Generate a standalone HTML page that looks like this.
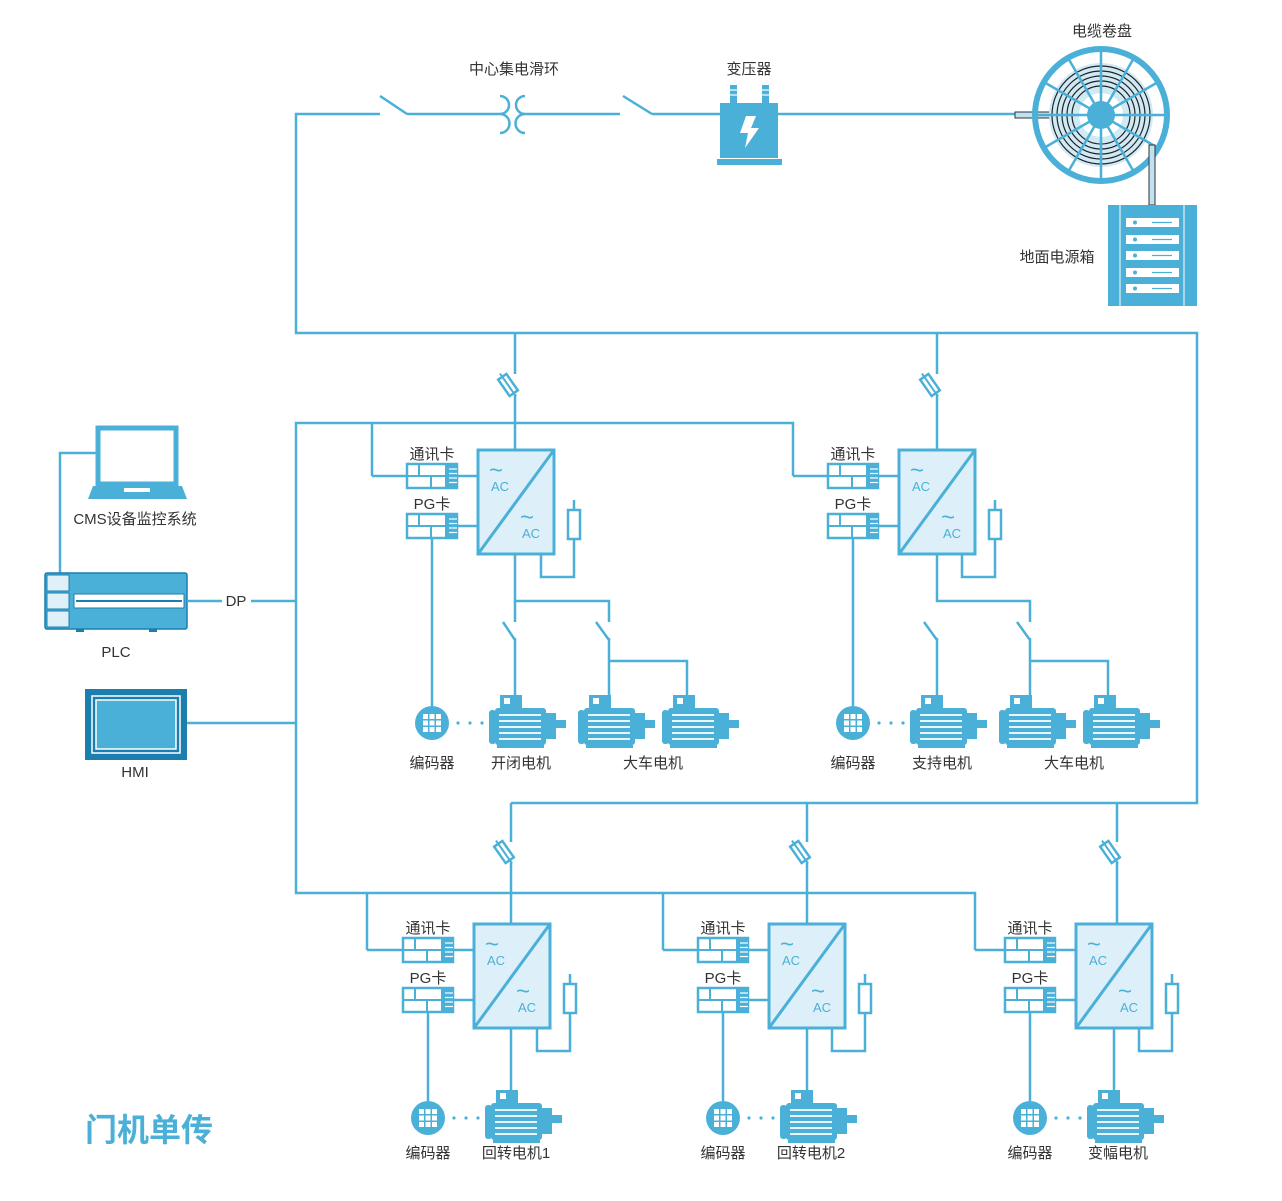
<!DOCTYPE html>
<html><head><meta charset="utf-8"><style>
body{margin:0;background:#fff;}
svg{display:block;}
text{font-family:"Liberation Sans","Noto Sans CJK SC",sans-serif;fill:#333;font-size:15px;text-anchor:middle;}
.l{fill:none;stroke:#4ab0d8;stroke-width:2.5;}
.ac{fill:#4ab0d8;font-size:13px;text-anchor:start;}
.tl{fill:#4ab0d8;font-size:24px;text-anchor:start;}
</style></head><body>
<svg width="1282" height="1201" viewBox="0 0 1282 1201" xmlns="http://www.w3.org/2000/svg">
<defs>
<symbol id="drive" overflow="visible">
 <rect x="0" y="0" width="76" height="104" fill="#ddeff8" stroke="#4ab0d8" stroke-width="3"/>
 <line x1="0" y1="104" x2="76" y2="0" stroke="#4ab0d8" stroke-width="3"/>
</symbol>
<symbol id="card" overflow="visible">
 <rect x="0" y="0" width="50" height="24" fill="#fff" stroke="#4ab0d8" stroke-width="2.5"/>
 <line x1="0" y1="12" x2="38" y2="12" stroke="#4ab0d8" stroke-width="2"/>
 <line x1="12" y1="0" x2="12" y2="12" stroke="#4ab0d8" stroke-width="2"/>
 <line x1="24" y1="12" x2="24" y2="24" stroke="#4ab0d8" stroke-width="2"/>
 <rect x="38" y="0" width="12" height="24" fill="#4ab0d8"/>
 <g stroke="#fff" stroke-width="1.2"><line x1="42" y1="5" x2="50" y2="5"/><line x1="42" y1="9.5" x2="50" y2="9.5"/><line x1="42" y1="14" x2="50" y2="14"/><line x1="42" y1="18.5" x2="50" y2="18.5"/></g>
</symbol>
<symbol id="res" overflow="visible">
 <line x1="6" y1="-10" x2="6" y2="0" stroke="#4ab0d8" stroke-width="2.5"/>
 <rect x="0" y="0" width="12" height="29" fill="#fff" stroke="#4ab0d8" stroke-width="2.5"/>
</symbol>
<symbol id="fuse" overflow="visible">
 <g transform="rotate(-35)">
 <rect x="-5" y="-10" width="10" height="20" fill="#fff" stroke="#4ab0d8" stroke-width="2.5"/>
 <line x1="0" y1="-14" x2="0" y2="14" stroke="#4ab0d8" stroke-width="2"/>
 </g>
</symbol>
<symbol id="motor" overflow="visible">
 <rect x="11" y="0" width="22" height="14" fill="#4ab0d8"/>
 <rect x="15" y="3" width="6" height="6" fill="#fff"/>
 <rect x="0" y="15" width="7" height="34" rx="3" fill="#4ab0d8"/>
 <rect x="6" y="13" width="51" height="37" rx="3" fill="#4ab0d8"/>
 <g stroke="#fff" stroke-width="1.8"><line x1="10" y1="20" x2="52" y2="20"/><line x1="10" y1="26" x2="52" y2="26"/><line x1="10" y1="32" x2="52" y2="32"/><line x1="10" y1="38" x2="52" y2="38"/><line x1="10" y1="44" x2="52" y2="44"/></g>
 <rect x="57" y="18" width="10" height="26" fill="#4ab0d8"/>
 <rect x="67" y="25" width="10" height="8" fill="#4ab0d8"/>
 <rect x="8" y="50" width="47" height="3" fill="#4ab0d8"/>
</symbol>
<symbol id="enc" overflow="visible">
 <circle cx="0" cy="0" r="17" fill="#4ab0d8"/>
 <g fill="#fff"><rect x="-9" y="-9" width="5" height="5"/><rect x="-2.5" y="-9" width="5" height="5"/><rect x="4" y="-9" width="5" height="5"/><rect x="-9" y="-2.5" width="5" height="5"/><rect x="-2.5" y="-2.5" width="5" height="5"/><rect x="4" y="-2.5" width="5" height="5"/><rect x="-9" y="4" width="5" height="5"/><rect x="-2.5" y="4" width="5" height="5"/><rect x="4" y="4" width="5" height="5"/></g>
 <g fill="#4ab0d8"><circle cx="26" cy="0" r="1.6"/><circle cx="38" cy="0" r="1.6"/><circle cx="50" cy="0" r="1.6"/></g>
</symbol>
</defs>

<path class="l" d="M380 114 H296 V333 H1197 V803 H511"/>
<line class="l" x1="380" y1="96" x2="407" y2="114"/>
<line class="l" x1="407" y1="114" x2="502" y2="114"/>
<path class="l" d="M500 96 A9 9 0 0 1 500 114 A9 9 0 0 1 500 133"/>
<path class="l" d="M525 96 A9 9 0 0 0 525 114 A9 9 0 0 0 525 133"/>
<line class="l" x1="523" y1="114" x2="620" y2="114"/>
<line class="l" x1="623" y1="96" x2="652" y2="114"/>
<line class="l" x1="652" y1="114" x2="720" y2="114"/>
<line class="l" x1="778" y1="114" x2="1015" y2="114"/>
<text x="514" y="74">中心集电滑环</text>
<text x="749" y="74">变压器</text>
<g fill="#4ab0d8">
<rect x="730" y="85" width="7" height="18"/><rect x="762" y="85" width="7" height="18"/>
<rect x="720" y="103" width="58" height="55"/>
<rect x="717" y="159" width="65" height="6"/>
</g>
<g stroke="#fff" stroke-width="1.2"><line x1="729" y1="90" x2="738" y2="90"/><line x1="729" y1="95" x2="738" y2="95"/><line x1="761" y1="90" x2="770" y2="90"/><line x1="761" y1="95" x2="770" y2="95"/></g>
<path d="M746 116 L756 116 L751 128 L759 128 L745 148 L748 133 L740 133 Z" fill="#fff"/>
<text x="1102" y="36">电缆卷盘</text>
<rect x="1015" y="112" width="35" height="6" fill="#bfe2f2" stroke="#333" stroke-width="1"/>
<circle cx="1101" cy="115" r="52" fill="#cfe9f5"/>
<g fill="none" stroke="#222" stroke-width="1.2">
<circle cx="1101" cy="115" r="49"/><circle cx="1101" cy="115" r="44"/><circle cx="1101" cy="115" r="39"/><circle cx="1101" cy="115" r="34"/><circle cx="1101" cy="115" r="29"/>
</g>
<circle cx="1101" cy="115" r="22" fill="#fff"/>
<g stroke="#4ab0d8" stroke-width="2.5">
<line x1="1101" y1="50" x2="1101" y2="180"/><line x1="1036" y1="115" x2="1166" y2="115"/>
<line x1="1068.5" y1="58.7" x2="1133.5" y2="171.3"/><line x1="1133.5" y1="58.7" x2="1068.5" y2="171.3"/>
<line x1="1044.7" y1="82.5" x2="1157.3" y2="147.5"/><line x1="1044.7" y1="147.5" x2="1157.3" y2="82.5"/>
</g>
<circle cx="1101" cy="115" r="14" fill="#4ab0d8"/>
<circle cx="1101" cy="115" r="66" fill="none" stroke="#4ab0d8" stroke-width="6"/>
<rect x="1149" y="145" width="6" height="60" fill="#bfe2f2" stroke="#333" stroke-width="1"/>
<rect x="1108" y="205" width="89" height="101" fill="#4ab0d8"/>
<g stroke="#fff" stroke-width="1"><line x1="1120" y1="205" x2="1120" y2="306"/><line x1="1184" y1="205" x2="1184" y2="306"/></g>
<g fill="#fff"><rect x="1126" y="218" width="53" height="9"/><rect x="1126" y="235" width="53" height="9"/><rect x="1126" y="251" width="53" height="9"/><rect x="1126" y="268" width="53" height="9"/><rect x="1126" y="284" width="53" height="9"/></g>
<g fill="#4ab0d8"><circle cx="1135" cy="222.5" r="2"/><circle cx="1135" cy="239.5" r="2"/><circle cx="1135" cy="255.5" r="2"/><circle cx="1135" cy="272.5" r="2"/><circle cx="1135" cy="288.5" r="2"/></g>
<g stroke="#4ab0d8" stroke-width="1.2"><line x1="1152" y1="222.5" x2="1172" y2="222.5"/><line x1="1152" y1="239.5" x2="1172" y2="239.5"/><line x1="1152" y1="255.5" x2="1172" y2="255.5"/><line x1="1152" y1="272.5" x2="1172" y2="272.5"/><line x1="1152" y1="288.5" x2="1172" y2="288.5"/></g>
<text x="1057" y="262">地面电源箱</text>

<path class="l" d="M793 476 V423 H296 V893 H975 V950"/>
<line class="l" x1="367" y1="893" x2="367" y2="950"/>
<line class="l" x1="663" y1="893" x2="663" y2="950"/>
<line class="l" x1="372" y1="423" x2="372" y2="476"/>

<path class="l" d="M96 453 H60 V573"/>
<rect x="98" y="428" width="78" height="56" fill="#fff" stroke="#4ab0d8" stroke-width="5"/>
<path d="M93 486 H182 L187 499 H88 Z" fill="#4ab0d8"/><rect x="124" y="488" width="26" height="4" fill="#fff"/>
<text x="135" y="524">CMS设备监控系统</text>
<rect x="45" y="573" width="142" height="56" rx="2" fill="#4ab0d8" stroke="#1a7fae" stroke-width="1.5"/>
<g fill="#dff0f8" stroke="#1a7fae" stroke-width="1"><rect x="47" y="575" width="22" height="16"/><rect x="47" y="593" width="22" height="16"/><rect x="47" y="611" width="22" height="16"/></g>
<rect x="74" y="594" width="110" height="14" fill="#fff" stroke="#1a7fae" stroke-width="1"/>
<line x1="76" y1="601" x2="182" y2="601" stroke="#1a7fae" stroke-width="2"/>
<rect x="76" y="629" width="8" height="3" fill="#1a7fae"/><rect x="149" y="629" width="8" height="3" fill="#1a7fae"/>
<line class="l" x1="187" y1="601" x2="222" y2="601"/>
<text x="236" y="606">DP</text>
<line class="l" x1="251" y1="601" x2="296" y2="601"/>
<text x="116" y="657">PLC</text>
<rect x="85" y="689" width="102" height="71" fill="#1a7fae"/>
<rect x="92" y="696" width="88" height="57" fill="none" stroke="#fff" stroke-width="1.5"/>
<rect x="96" y="700" width="80" height="49" fill="#4ab0d8" stroke="#fff" stroke-width="1.5"/>
<line class="l" x1="187" y1="723" x2="296" y2="723"/>
<text x="135" y="777">HMI</text>

<!-- Unit A -->
<line class="l" x1="515" y1="333" x2="515" y2="374"/><line class="l" x1="515" y1="394" x2="515" y2="450"/>
<use href="#fuse" x="508" y="385"/>
<line class="l" x1="372" y1="476" x2="478" y2="476"/><line class="l" x1="457" y1="526" x2="478" y2="526"/>
<text x="432" y="459">通讯卡</text><use href="#card" x="407" y="464"/>
<text x="432" y="509">PG卡</text><use href="#card" x="407" y="514"/>
<use href="#drive" x="478" y="450"/>
<text class="tl" x="489" y="478">~</text><text class="ac" x="491" y="491">AC</text>
<text class="tl" x="520" y="525">~</text><text class="ac" x="522" y="538">AC</text>
<use href="#res" x="568" y="510"/>
<path class="l" d="M541 554 V577 H574 V540"/>
<path class="l" d="M515 554 V601 H609 V622"/>
<line class="l" x1="515" y1="601" x2="515" y2="622"/>
<line class="l" x1="503" y1="622" x2="515" y2="640"/><line class="l" x1="515" y1="638" x2="515" y2="697"/>
<line class="l" x1="596" y1="622" x2="609" y2="640"/><path class="l" d="M609 638 V697 M609 661 H687 V697"/>
<line class="l" x1="432" y1="538" x2="432" y2="706"/>
<use href="#enc" x="432" y="723"/>
<use href="#motor" x="489" y="695"/><use href="#motor" x="578" y="695"/><use href="#motor" x="662" y="695"/>
<text x="432" y="768">编码器</text><text x="521" y="768">开闭电机</text><text x="653" y="768">大车电机</text>

<!-- Unit B -->
<g transform="translate(421,0)">
<line class="l" x1="516" y1="333" x2="516" y2="374"/><line class="l" x1="516" y1="394" x2="516" y2="450"/>
<use href="#fuse" x="509" y="385"/>
<line class="l" x1="372" y1="476" x2="478" y2="476"/><line class="l" x1="457" y1="526" x2="478" y2="526"/>
<text x="432" y="459">通讯卡</text><use href="#card" x="407" y="464"/>
<text x="432" y="509">PG卡</text><use href="#card" x="407" y="514"/>
<use href="#drive" x="478" y="450"/>
<text class="tl" x="489" y="478">~</text><text class="ac" x="491" y="491">AC</text>
<text class="tl" x="520" y="525">~</text><text class="ac" x="522" y="538">AC</text>
<use href="#res" x="568" y="510"/>
<path class="l" d="M541 554 V577 H574 V540"/>
<path class="l" d="M516 554 V601 H609 V622"/>
<line class="l" x1="503" y1="622" x2="516" y2="640"/><line class="l" x1="516" y1="638" x2="516" y2="697"/>
<line class="l" x1="596" y1="622" x2="609" y2="640"/><path class="l" d="M609 638 V697 M609 661 H687 V697"/>
<line class="l" x1="432" y1="538" x2="432" y2="706"/>
<use href="#enc" x="432" y="723"/>
<use href="#motor" x="489" y="695"/><use href="#motor" x="578" y="695"/><use href="#motor" x="662" y="695"/>
<text x="432" y="768">编码器</text><text x="521" y="768">支持电机</text><text x="653" y="768">大车电机</text>
</g>

<g transform="translate(-4,474)">
<line class="l" x1="515" y1="329" x2="515" y2="368"/><line class="l" x1="515" y1="388" x2="515" y2="450"/>
<use href="#fuse" x="508" y="378"/>
<line class="l" x1="371" y1="476" x2="478" y2="476"/><line class="l" x1="457" y1="526" x2="478" y2="526"/>
<text x="432" y="459">通讯卡</text><use href="#card" x="407" y="464"/>
<text x="432" y="509">PG卡</text><use href="#card" x="407" y="514"/>
<use href="#drive" x="478" y="450"/>
<text class="tl" x="489" y="478">~</text><text class="ac" x="491" y="491">AC</text>
<text class="tl" x="520" y="525">~</text><text class="ac" x="522" y="538">AC</text>
<use href="#res" x="568" y="510"/>
<path class="l" d="M541 554 V577 H574 V540"/>
<line class="l" x1="515" y1="554" x2="515" y2="620"/>
<line class="l" x1="432" y1="538" x2="432" y2="627"/>
<use href="#enc" x="432" y="644"/>
<use href="#motor" x="489" y="616"/>
<text x="432" y="684">编码器</text><text x="520" y="684">回转电机1</text>
</g>
<g transform="translate(291,474)">
<line class="l" x1="516" y1="329" x2="516" y2="368"/><line class="l" x1="516" y1="388" x2="516" y2="450"/>
<use href="#fuse" x="509" y="378"/>
<line class="l" x1="372" y1="476" x2="478" y2="476"/><line class="l" x1="457" y1="526" x2="478" y2="526"/>
<text x="432" y="459">通讯卡</text><use href="#card" x="407" y="464"/>
<text x="432" y="509">PG卡</text><use href="#card" x="407" y="514"/>
<use href="#drive" x="478" y="450"/>
<text class="tl" x="489" y="478">~</text><text class="ac" x="491" y="491">AC</text>
<text class="tl" x="520" y="525">~</text><text class="ac" x="522" y="538">AC</text>
<use href="#res" x="568" y="510"/>
<path class="l" d="M541 554 V577 H574 V540"/>
<line class="l" x1="516" y1="554" x2="516" y2="620"/>
<line class="l" x1="432" y1="538" x2="432" y2="627"/>
<use href="#enc" x="432" y="644"/>
<use href="#motor" x="489" y="616"/>
<text x="432" y="684">编码器</text><text x="520" y="684">回转电机2</text>
</g>
<g transform="translate(598,474)">
<line class="l" x1="519" y1="329" x2="519" y2="368"/><line class="l" x1="519" y1="388" x2="519" y2="450"/>
<use href="#fuse" x="512" y="378"/>
<line class="l" x1="377" y1="476" x2="478" y2="476"/><line class="l" x1="457" y1="526" x2="478" y2="526"/>
<text x="432" y="459">通讯卡</text><use href="#card" x="407" y="464"/>
<text x="432" y="509">PG卡</text><use href="#card" x="407" y="514"/>
<use href="#drive" x="478" y="450"/>
<text class="tl" x="489" y="478">~</text><text class="ac" x="491" y="491">AC</text>
<text class="tl" x="520" y="525">~</text><text class="ac" x="522" y="538">AC</text>
<use href="#res" x="568" y="510"/>
<path class="l" d="M541 554 V577 H574 V540"/>
<line class="l" x1="516" y1="554" x2="516" y2="620"/>
<line class="l" x1="432" y1="538" x2="432" y2="627"/>
<use href="#enc" x="432" y="644"/>
<use href="#motor" x="489" y="616"/>
<text x="432" y="684">编码器</text><text x="520" y="684">变幅电机</text>
</g>

<text x="85" y="1141" style="text-anchor:start;font-size:32px;font-weight:bold;fill:#4ab0d8;">门机单传</text>
</svg>
</body></html>
